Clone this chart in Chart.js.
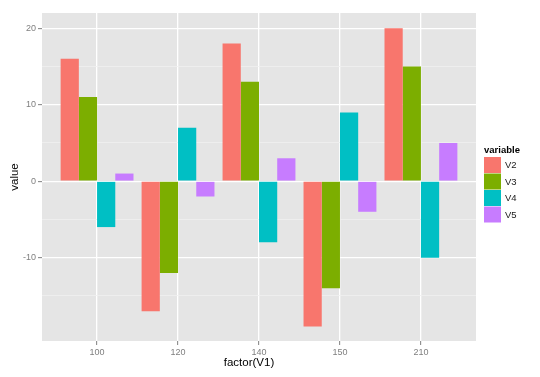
<!DOCTYPE html>
<html>
<head>
<meta charset="utf-8">
<title>value por factor(V1)</title>
<script src="https://cdn.jsdelivr.net/npm/chart.js@4"></script>
<style>
    html, body { margin: 0; padding: 0; background: #ffffff; }
    #grafica-wrap { width: 540px; height: 377px; }
</style>
</head>
<body>
<div id="grafica-wrap"><canvas id="grafica"></canvas></div>
<script>
// Datos
const categorias = ['100', '120', '140', '150', '210'];
const serieV2 = [16, -17, 18, -19, 20];
const serieV3 = [11, -12, 13, -14, 15];
const serieV4 = [-6, 7, -8, 9, -10];
const serieV5 = [1, -2, 3, -4, 5];
const nombresSeries = ['V2', 'V3', 'V4', 'V5'];
const ticksMayoresY = [-10, 0, 10, 20];
const ticksMenoresY = [-15, -5, 5, 15];

document.addEventListener('DOMContentLoaded', () => {
    const colores = ['#F8766D', '#7CAE00', '#00BFC4', '#C77CFF'];
    const valores = [serieV2, serieV3, serieV4, serieV5];

    // Cada serie como puntos {x: indice, y: valor} sobre un eje lineal
    const datasets = nombresSeries.map((nombre, k) => ({
        label: nombre,
        data: valores[k].map((v, i) => ({ x: i, y: v })),
        backgroundColor: colores[k],
        borderWidth: 0,
        categoryPercentage: 0.9,
        barPercentage: 1.0
    }));

    // Fondo gris del panel (estilo ggplot)
    const fondoPanel = {
        id: 'fondoPanel',
        beforeDraw(chart) {
            const { ctx, chartArea } = chart;
            ctx.save();
            ctx.fillStyle = '#e5e5e5';
            ctx.fillRect(chartArea.left, chartArea.top, chartArea.right - chartArea.left, chartArea.bottom - chartArea.top);
            ctx.restore();
        }
    };

    // Leyenda a la derecha con cuadros pegados + título del eje x
    const leyenda = {
        id: 'leyendaGG',
        afterDraw(chart) {
            const ctx = chart.ctx;
            const x = 484, y0 = 157, w = 17, h = 16;
            ctx.save();
            ctx.fillStyle = '#000000';
            ctx.font = 'bold 9.5px "Liberation Sans", Arial, sans-serif';
            ctx.textBaseline = 'alphabetic';
            ctx.textAlign = 'left';
            ctx.fillText('variable', x, 153);
            chart.data.datasets.forEach((ds, i) => {
                const y = y0 + i * (h + 0.5);
                ctx.fillStyle = ds.backgroundColor;
                ctx.fillRect(x, y, w, h);
                ctx.fillStyle = '#1a1a1a';
                ctx.font = '9.5px "Liberation Sans", Arial, sans-serif';
                ctx.textBaseline = 'middle';
                ctx.fillText(ds.label, x + w + 4, y + h / 2 + 0.5);
            });
            // El título del eje x va algo corrido a la izquierda en el original
            const area = chart.chartArea;
            ctx.fillStyle = '#000000';
            ctx.font = '11.5px "Liberation Sans", Arial, sans-serif';
            ctx.textAlign = 'center';
            ctx.textBaseline = 'middle';
            ctx.fillText('factor(V1)', (area.left + area.right) / 2 - 10, 363);
            ctx.restore();
        }
    };

    const ctx = document.getElementById('grafica').getContext('2d');
    new Chart(ctx, {
        type: 'bar',
        data: { datasets },
        options: {
            responsive: true,
            maintainAspectRatio: false,
            animation: false,
            layout: { padding: { left: 0, right: 64, top: 13, bottom: 0 } },
            plugins: {
                legend: { display: false },
                tooltip: { enabled: false }
            },
            scales: {
                x: {
                    type: 'linear',
                    offset: false,
                    min: -0.68,
                    max: categorias.length - 1 + 0.68,
                    afterBuildTicks: (escala) => {
                        escala.ticks = categorias.map((c, i) => ({ value: i }));
                    },
                    afterFit: (escala) => { escala.height = 36; },
                    border: { display: false },
                    grid: {
                        offset: false,
                        color: '#ffffff',
                        lineWidth: 1.3,
                        tickColor: '#7f7f7f',
                        tickLength: 4,
                        tickWidth: 1
                    },
                    ticks: {
                        padding: 2,
                        maxRotation: 0,
                        color: '#7f7f7f',
                        font: { family: '"Liberation Sans", Arial, sans-serif', size: 9 },
                        callback: (v) => categorias[v]
                    },
                    title: { display: false }
                },
                y: {
                    min: -20.9,
                    max: 22,
                    afterBuildTicks: (escala) => {
                        escala.ticks = ticksMayoresY.concat(ticksMenoresY)
                            .sort((a, b) => a - b)
                            .map(v => ({ value: v }));
                    },
                    afterFit: (escala) => { escala.width = 42; },
                    border: { display: false },
                    grid: {
                        color: (c) => ticksMayoresY.includes(c.tick.value) ? '#ffffff' : '#f0f0f0',
                        lineWidth: (c) => ticksMayoresY.includes(c.tick.value) ? 1.3 : 0.8,
                        tickColor: (c) => ticksMayoresY.includes(c.tick.value) ? '#7f7f7f' : 'rgba(0,0,0,0)',
                        tickLength: 4,
                        tickWidth: 1
                    },
                    ticks: {
                        padding: 2,
                        color: '#7f7f7f',
                        font: { family: '"Liberation Sans", Arial, sans-serif', size: 9 },
                        callback: (v) => ticksMayoresY.includes(v) ? String(v) : ''
                    },
                    title: {
                        display: true,
                        text: 'value',
                        color: '#000000',
                        font: { family: '"Liberation Sans", Arial, sans-serif', size: 11.5 },
                        padding: { top: 8, bottom: 0 }
                    }
                }
            }
        },
        plugins: [fondoPanel, leyenda]
    });
});
</script>
</body>
</html>
